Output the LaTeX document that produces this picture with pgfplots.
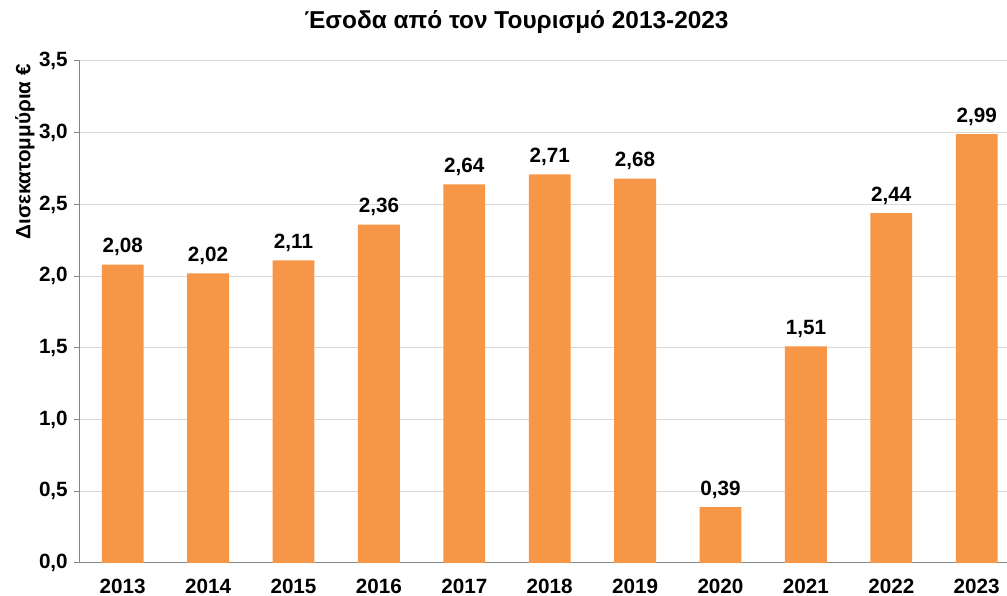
\documentclass[border=0pt]{standalone}
\usepackage{fontspec}
\setmainfont{Liberation Sans}
\usepackage{pgfplots}
\pgfplotsset{compat=1.18}
\definecolor{barorange}{HTML}{F79646}
\definecolor{gridgray}{HTML}{D9D9D9}
\definecolor{axisgray}{HTML}{868686}
\newcommand{\lblfont}{\fontsize{15.5}{18}\selectfont\bfseries}
\newcommand{\ttlfont}{\fontsize{18.3}{21}\selectfont\bfseries}
\begin{document}
\begin{tikzpicture}
\begin{axis}[
  name=ax,
  scale only axis,
  width=695.25pt,
  height=376.5pt,
  ymin=0, ymax=3.5,
  ytick={0,0.5,1,1.5,2,2.5,3,3.5},
  xmin=-0.5, xmax=10.355,
  xtick={0,1,2,3,4,5,6,7,8,9,10},
  xticklabels={2013,2014,2015,2016,2017,2018,2019,2020,2021,2022,2023},
  axis x line*=bottom,
  axis y line*=left,
  axis line style={axisgray, line width=0.75pt, -},
  ymajorgrids,
  grid style={gridgray, line width=0.75pt},
  xtick style={draw=none},
  ytick style={axisgray, line width=0.75pt},
  tick align=outside,
  major tick length=4.5pt,
  /pgf/number format/assume math mode=true,
  yticklabel style={font=\lblfont, anchor=east, inner sep=0pt, xshift=-4.5pt,
    /pgf/number format/.cd, use comma, fixed, fixed zerofill, precision=1},
  xticklabel style={font=\lblfont, anchor=north, inner sep=0pt, yshift=-7.5pt},
  ybar,
  bar width=0.49,
  bar shift=0pt,
  clip=false,
  nodes near coords,
  nodes near coords style={font=\lblfont, anchor=base, inner sep=0pt, yshift=9pt,
    /pgf/number format/.cd, use comma, fixed, fixed zerofill, precision=2},
  title={Έσοδα από τον Τουρισμό 2013-2023},
  title style={font=\ttlfont, at={(0.471,1)}, anchor=center, yshift=23.25pt},
  ylabel={Δισεκατομμύρια €},
  ylabel style={font=\lblfont, at={(rel axis cs:0,0.819)}, anchor=center, yshift=41.25pt},
]
\addplot[fill=barorange, draw=none] coordinates {
  (0,2.08) (1,2.02) (2,2.11) (3,2.36) (4,2.64) (5,2.71)
  (6,2.68) (7,0.39) (8,1.51) (9,2.44) (10,2.99)
};
\end{axis}
\pgfresetboundingbox
\path ([shift={(-60pt,-24.75pt)}]ax.south west) rectangle ([shift={(0pt,45.75pt)}]ax.north east);
\end{tikzpicture}
\end{document}
